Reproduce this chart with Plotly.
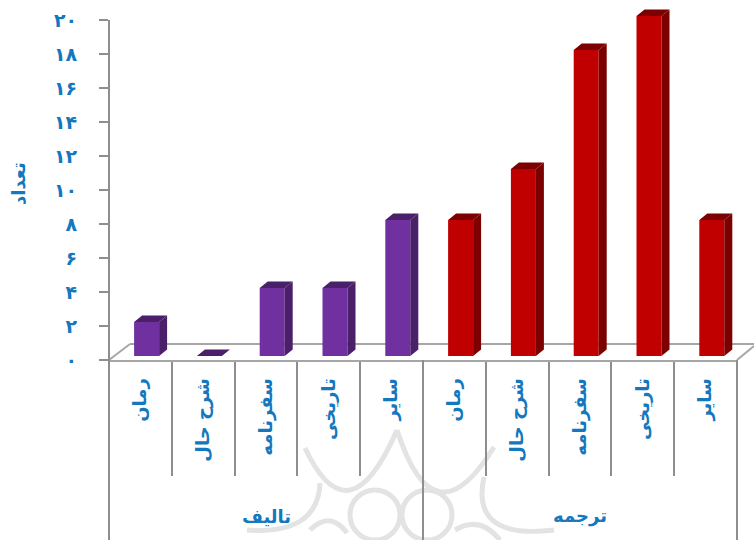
import plotly.graph_objects as go

categories = ["رمان", "شرح حال", "سفرنامه", "تاریخی", "سایر"]
groups = ["تالیف", "ترجمه"]
authored = [2, 0, 4, 4, 8]
translated = [8, 11, 18, 20, 8]
y_ticks = [0, 2, 4, 6, 8, 10, 12, 14, 16, 18, 20]
y_labels = ["۰", "۲", "۴", "۶", "۸", "۱۰", "۱۲", "۱۴", "۱۶", "۱۸", "۲۰"]
y_title = "تعداد"

W, H = 754, 540
L, R, T, B = 109, 737, 0, 360
xu = (R - L) / 10
yu = 17
BLUE = "#1478BE"
GREY = "#8E8E8E"
MARK = "#E3E3E3"
FONT = "DejaVu Sans"
FONT_B = dict(family=FONT, size=18, color=BLUE, weight="bold")

bar_w = 25 / xu
bar_shift = 6.2 / xu
base = 4 / yu
dx = 8 / xu
dy = 6.5 / yu


def px(x, y):
    return (x - L) / (R - L), (B - y) / (B - T)


def line(x0, y0, x1, y1, color, width, layer="below"):
    a, b = px(x0, y0), px(x1, y1)
    return dict(type="line", xref="paper", yref="paper", x0=a[0], y0=a[1], x1=b[0], y1=b[1],
                line=dict(color=color, width=width), layer=layer)


def quad(p0, c, p2):
    a, b, d = px(*p0), px(*c), px(*p2)
    return dict(type="path", xref="paper", yref="paper", layer="below",
                path=f"M {a[0]} {a[1]} Q {b[0]} {b[1]} {d[0]} {d[1]}",
                line=dict(color=MARK, width=5))


def ring(cx, cy, r):
    a, b = px(cx - r, cy + r), px(cx + r, cy - r)
    return dict(type="circle", xref="paper", yref="paper", layer="below",
                x0=a[0], y0=a[1], x1=b[0], y1=b[1], line=dict(color=MARK, width=5))


def faces(positions, values):
    side_x, side_y, top_x, top_y = [], [], [], []
    for p, v in zip(positions, values):
        x0, x1 = p - bar_w / 2, p + bar_w / 2
        y0, y1 = base, base + v
        side_x += [x1, x1 + dx, x1 + dx, x1, x1, None]
        side_y += [y0, y0 + dy, y1 + dy, y1, y0, None]
        top_x += [x0, x0 + dx, x1 + dx, x1, x0, None]
        top_y += [y1, y1 + dy, y1 + dy, y1, y1, None]
    return side_x, side_y, top_x, top_y


fig = go.Figure()

series = [
    (authored, 0, "#7030A0", "#4A206A"),
    (translated, 5, "#C00000", "#7C0000"),
]
for values, start, front, dark in series:
    pos = [start + i + 0.5 + bar_shift for i in range(len(values))]
    sx, sy, tx, ty = faces(pos, values)
    fig.add_trace(go.Bar(x=pos, y=values, base=base, width=bar_w, marker_color=front,
                         marker_line_width=0, cliponaxis=False, showlegend=False))
    fig.add_trace(go.Scatter(x=sx, y=sy, mode="lines", fill="toself", fillcolor=dark,
                             line=dict(width=0), cliponaxis=False,
                             hoverinfo="skip", showlegend=False))
    fig.add_trace(go.Scatter(x=tx, y=ty, mode="lines", fill="toself", fillcolor=dark,
                             line=dict(width=0), cliponaxis=False,
                             hoverinfo="skip", showlegend=False))

tick_pos = [i + 0.5 for i in range(10)]
tick_text = categories + categories

shapes = [
    # faint watermark
    quad((305, 448), (349, 541), (397, 430)),
    quad((397, 430), (434, 545), (494, 447)),
    quad((320, 483), (318, 535), (247, 530)),
    quad((484, 477), (470, 540), (554, 530)),
    quad((310, 530), (330, 510), (347, 533)),
    quad((455, 530), (480, 515), (500, 540)),
    ring(375, 515, 25),
    ring(427, 515, 25),
    # floor of the 3-D box
    line(L, 360, 130, 344, "#A6A6A6", 2),
    line(130, 344, 754, 344, "#A6A6A6", 2),
    line(R, 360, 754, 346, "#A6A6A6", 2),
    # y axis line and long group separators
    line(L, 20, L, H, GREY, 2, "above"),
    line((L + R) / 2, B, (L + R) / 2, H, GREY, 2, "above"),
    line(R, B, R, H, GREY, 2, "above"),
]

label_y = px(0, 516)[1]
title_pos = px(18, 184)
annotations = [
    dict(text=groups[0], x=2.5, xref="x", y=label_y, yref="paper", yanchor="middle",
         showarrow=False, font=FONT_B),
    dict(text=groups[1], x=7.5, xref="x", y=label_y, yref="paper", yanchor="middle",
         showarrow=False, font=FONT_B),
    dict(text=y_title, x=title_pos[0], xref="paper", y=title_pos[1], yref="paper",
         xanchor="center", yanchor="middle", textangle=-90, showarrow=False, font=FONT_B),
]

fig.update_layout(
    width=W, height=H, autosize=False,
    margin=dict(l=L, r=W - R, t=T, b=H - B, pad=0),
    paper_bgcolor="white", plot_bgcolor="rgba(0,0,0,0)",
    barmode="overlay", shapes=shapes, annotations=annotations,
    xaxis=dict(range=[0, 10], tickmode="array", tickvals=tick_pos, ticktext=tick_text,
               tickangle=-90, ticks="", ticklabelstandoff=9,
               tickfont=FONT_B,
               showgrid=False, zeroline=False, showline=True, linecolor="#A6A6A6", linewidth=2,
               minor=dict(tickmode="array", tickvals=[1, 2, 3, 4, 6, 7, 8, 9],
                          ticks="outside", ticklen=114, tickwidth=2, tickcolor=GREY)),
    yaxis=dict(range=[0, (B - T) / yu], tickmode="array", tickvals=y_ticks, ticktext=y_labels,
               ticks="outside", ticklen=9, tickwidth=2, tickcolor=GREY,
               ticklabelstandoff=18, showgrid=False, zeroline=False, showline=False,
               tickfont=dict(family=FONT, size=19, color=BLUE, weight="bold")),
)

fig.write_html("out.html", config=dict(displayModeBar=False),
               post_script="document.body.style.margin='0';")
